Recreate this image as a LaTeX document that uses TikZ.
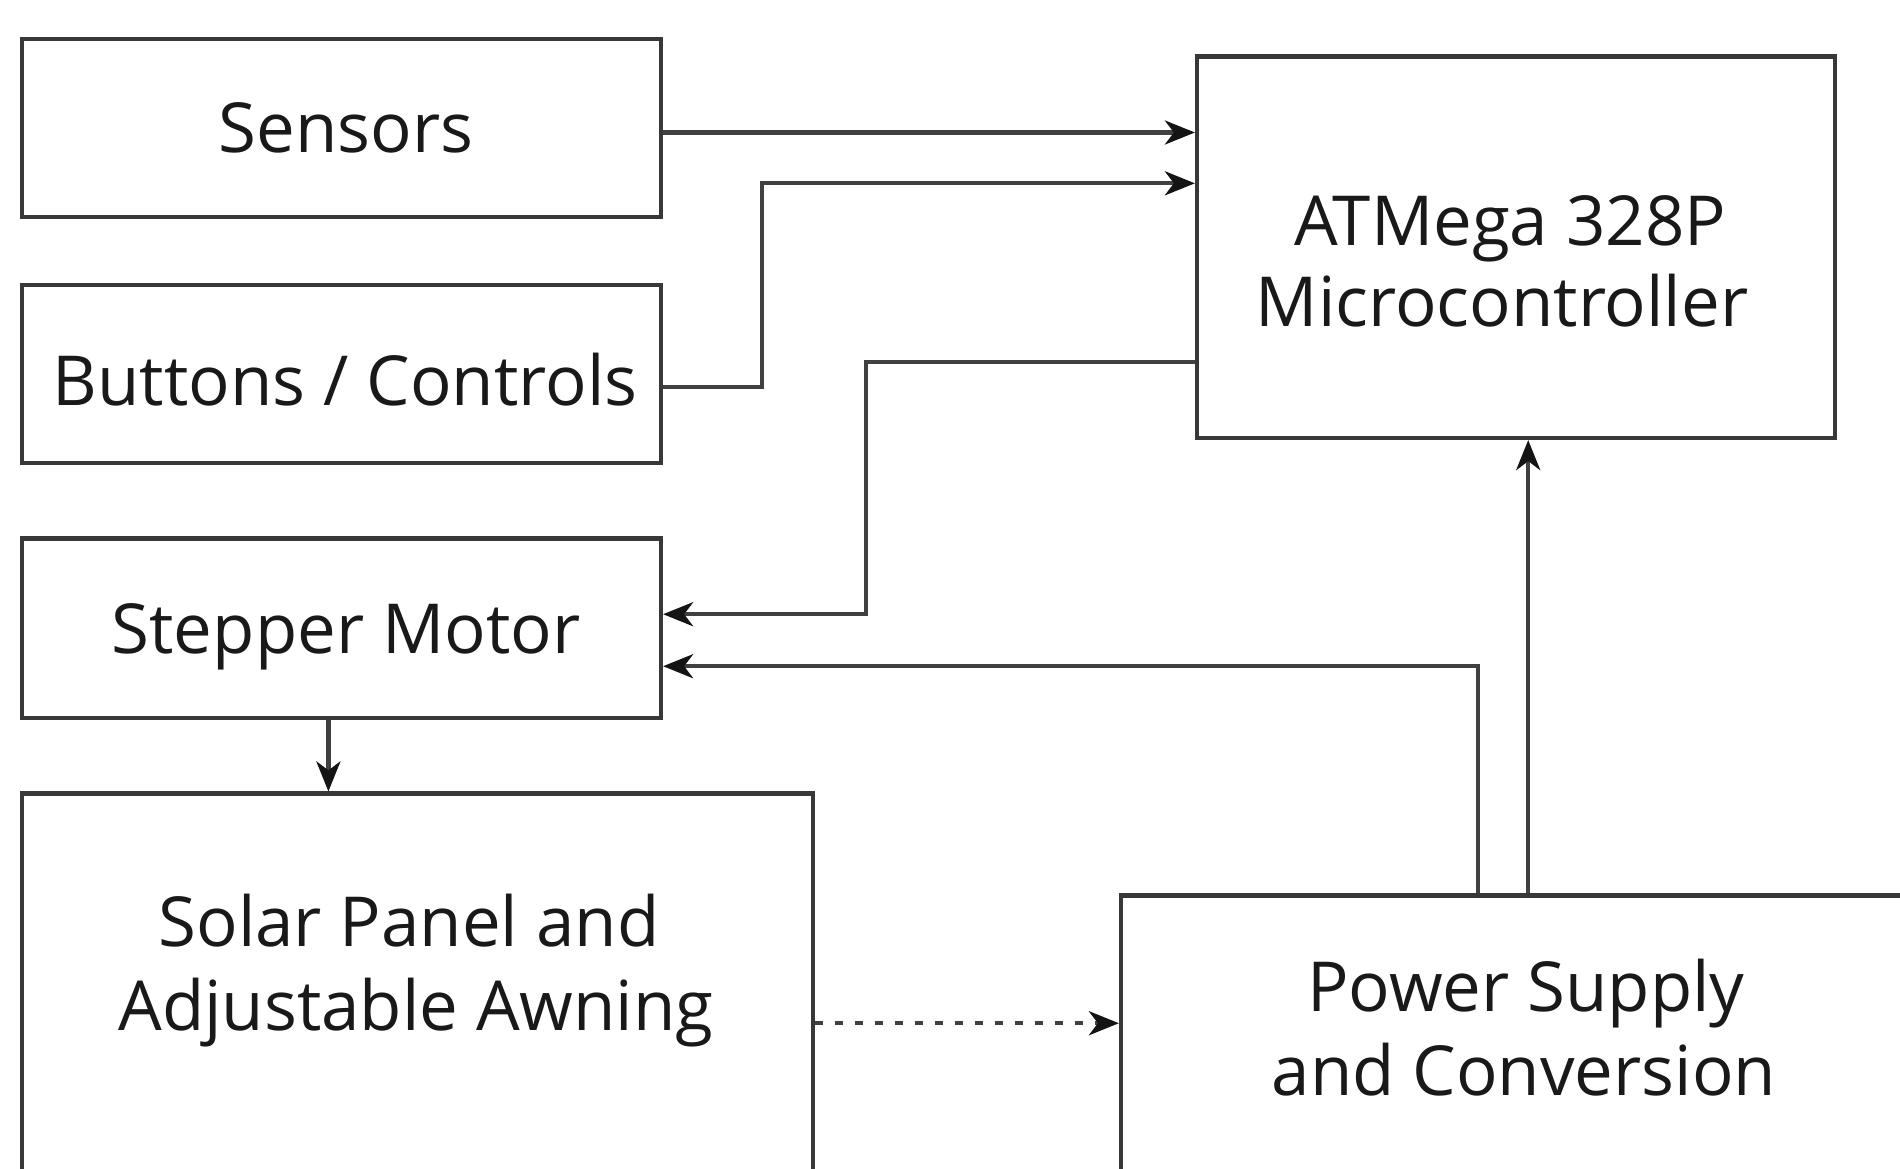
\documentclass[tikz,border=0pt]{standalone}
\usepackage{fontspec}
\setmainfont{Open Sans}
\usetikzlibrary{arrows.meta}
\begin{document}
\begin{tikzpicture}[x=0.5pt,y=-0.5pt,
  box/.style={draw=black!78, line width=2.1pt, inner sep=0pt, rectangle},
  lbl/.style={text=black!90, font=\fontsize{34.5}{41}\selectfont, inner sep=0pt, anchor=base},
  conn/.style={draw=black!75, line width=2.1pt,
    -{Stealth[length=15pt,width=12pt,inset=4.5pt,color=black!92]}},
  dotconn/.style={conn, dash pattern=on 4pt off 6pt}
]
% page area
\useasboundingbox (0,0) rectangle (1900,1168);
\fill[white] (0,0) rectangle (1900,1168);

% blocks
\node[box, minimum width=319.5pt, minimum height=89pt] (sensors) at (341.5,128) {};
\node[box, minimum width=319.5pt, minimum height=89pt] (buttons) at (341.5,374) {};
\node[box, minimum width=319.5pt, minimum height=89.75pt] (stepper) at (341.5,628.3) {};
\node[box, minimum width=319pt, minimum height=190.75pt] (atmega) at (1516,247.25) {};
\node[box, minimum width=395.5pt, minimum height=253.25pt] (solar) at (417.5,1046.75) {};
\node[box, minimum width=439.5pt, minimum height=202.25pt] (power) at (1560.5,1097.75) {};

% labels
\node[lbl] (sensorsT) at (346,152) {Sensors};
\node[lbl] (buttonsT) at (345,405) {Buttons / Controls};
\node[lbl] (stepperT) at (346,653.5) {Stepper Motor};
\node[lbl] (atmegaA) at (1510,245) {ATMega 328P};
\node[lbl] (atmegaB) at (1502,326.7) {Microcontroller};
\node[lbl] (solarA) at (409,946.7) {Solar Panel and};
\node[lbl] (solarB) at (416,1030) {Adjustable Awning};
\node[lbl] (powerA) at (1526,1011.7) {Power Supply};
\node[lbl] (powerB) at (1524,1095) {and Conversion};

% connectors
\draw[conn] (sensors.east |- 0,132.5) -- (atmega.west |- 0,132.5);
\draw[conn] (buttons.east |- 0,386.7) -| (762,183.3) -- (atmega.west |- 0,183.3);
\draw[conn] (atmega.west |- 0,361.7) -| (866,614.2) -- (stepper.east |- 0,614.2);
\draw[conn] (power.north -| 1477.7,0) |- (stepper.east |- 0,666.2);
\draw[conn] (power.north -| 1528.2,0) -- (atmega.south -| 1528.2,0);
\draw[conn] (stepper.south -| 328.4,0) -- (solar.north -| 328.4,0);
\draw[dotconn] (solar.east |- 0,1023.2) -- (power.west |- 0,1023.2);
\end{tikzpicture}
\end{document}
